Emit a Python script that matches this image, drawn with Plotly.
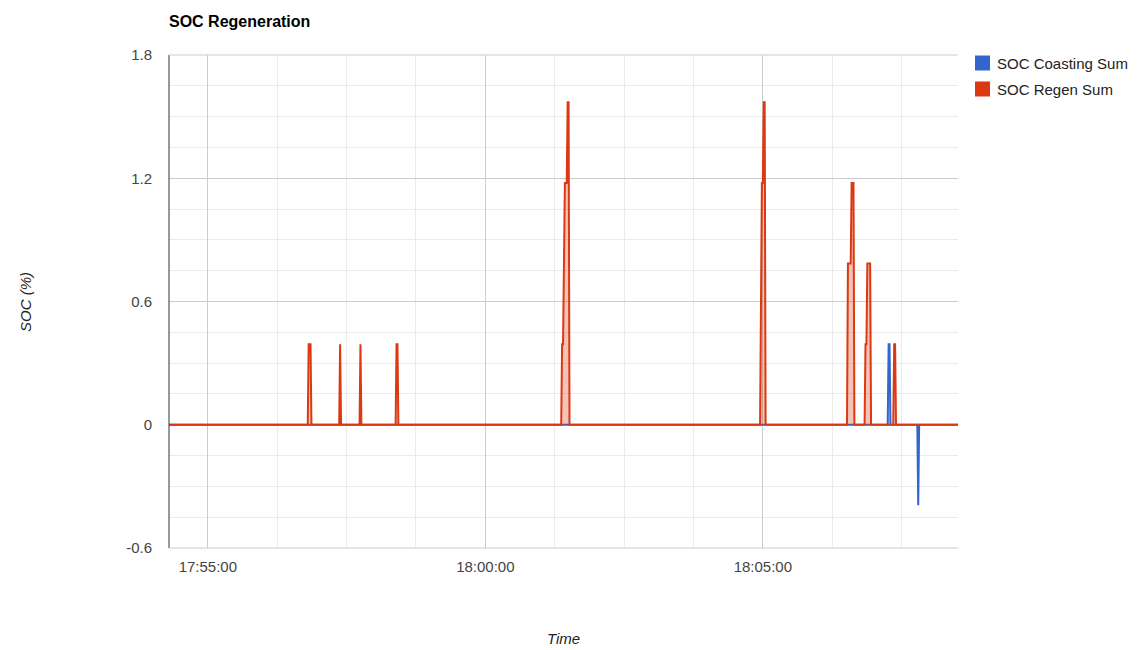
import plotly.graph_objects as go

DAY = "2020-01-01 "

regen_times = ["17:54:18", "17:56:48", "17:56:49", "17:56:51", "17:56:52",
               "17:57:22", "17:57:23", "17:57:24",
               "17:57:44", "17:57:45", "17:57:46",
               "17:58:23", "17:58:24", "17:58:25", "17:58:26",
               "18:01:22", "18:01:23", "18:01:24", "18:01:26", "18:01:28", "18:01:29", "18:01:30", "18:01:31",
               "18:04:57", "18:04:59", "18:05:00", "18:05:01", "18:05:02", "18:05:03",
               "18:06:31", "18:06:32", "18:06:35", "18:06:36", "18:06:38", "18:06:39",
               "18:06:50", "18:06:51", "18:06:52", "18:06:53", "18:06:56", "18:06:57",
               "18:07:21", "18:07:22", "18:07:23", "18:07:24",
               "18:08:31"]
regen_values = [0, 0, 0.392, 0.392, 0,
                0, 0.392, 0,
                0, 0.392, 0,
                0, 0.392, 0.392, 0,
                0, 0.392, 0.392, 1.177, 1.177, 1.57, 1.57, 0,
                0, 1.177, 1.177, 1.57, 1.57, 0,
                0, 0.785, 0.785, 1.177, 1.177, 0,
                0, 0.392, 0.392, 0.785, 0.785, 0,
                0, 0.392, 0.392, 0,
                0]

coast_times = ["17:54:18", "18:07:15", "18:07:16", "18:07:17", "18:07:18",
               "18:07:47", "18:07:48", "18:07:49", "18:08:31"]
coast_values = [0, 0, 0.392, 0.392, 0,
                0, -0.392, 0, 0]

series_names = ["SOC Coasting Sum", "SOC Regen Sum"]
series_colors = ["#3366cc", "#dc3912"]
series_fills = ["rgba(51,102,204,0.3)", "rgba(220,57,18,0.3)"]

y_ticks = [-0.6, 0, 0.6, 1.2, 1.8]
y_tick_labels = ["-0.6", "0", "0.6", "1.2", "1.8"]

FONT = "Arial, Liberation Sans, sans-serif"

fig = go.Figure()
for times, vals, name, col, fillc in [
    (coast_times, coast_values, series_names[0], series_colors[0], series_fills[0]),
    (regen_times, regen_values, series_names[1], series_colors[1], series_fills[1]),
]:
    fig.add_trace(go.Scatter(
        x=[DAY + t for t in times], y=vals, name=name, mode="lines",
        line=dict(color=col, width=2), fill="tozeroy", fillcolor=fillc,
        showlegend=False,
    ))

# page coordinates (the page body adds an 8px offset)
OFF = 8
L, R, T, B = 169, 958, 55, 548
W, H = 1139, 650
PW, PH = R - L, B - T

def px(x):
    return (x - L) / PW

def py(y):
    return (B - y) / PH

fig.update_layout(
    width=W - OFF, height=H - OFF,
    margin=dict(l=L - OFF, r=W - R, t=T - OFF, b=H - B, pad=0),
    paper_bgcolor="white", plot_bgcolor="white",
    font=dict(family=FONT, size=15, color="#444"),
    xaxis=dict(
        type="date",
        range=[DAY + regen_times[0], DAY + regen_times[-1]],
        tick0=DAY + "17:55:00", dtick=300000,
        tickformat="%H:%M:%S",
        showgrid=True, gridcolor="#cccccc", gridwidth=1,
        minor=dict(dtick=75000, tick0=DAY + "17:55:00", showgrid=True,
                   gridcolor="#ebebeb", gridwidth=1),
        showline=False, zeroline=False,
        ticks="outside", ticklen=5, tickcolor="rgba(0,0,0,0)",
        tickfont=dict(size=15, color="#444"),
    ),
    yaxis=dict(
        range=[-0.6, 1.8],
        tickvals=y_ticks, ticktext=y_tick_labels,
        showgrid=True, gridcolor="#cccccc", gridwidth=1,
        minor=dict(dtick=0.15, tick0=0, showgrid=True,
                   gridcolor="#ebebeb", gridwidth=1),
        zeroline=True, zerolinecolor="#333333", zerolinewidth=1,
        showline=False,
        ticks="outside", ticklen=13, tickcolor="rgba(0,0,0,0)",
        tickfont=dict(size=15, color="#444"),
    ),
)

shapes = [
    dict(type="line", xref="paper", yref="paper", x0=0, x1=0, y0=0, y1=1,
         line=dict(color="#333333", width=1)),
    dict(type="line", xref="paper", yref="paper", x0=0, x1=1, y0=1, y1=1,
         line=dict(color="#cccccc", width=1)),
    dict(type="line", xref="paper", yref="paper", x0=0, x1=1, y0=0, y1=0,
         line=dict(color="#cccccc", width=1)),
]
annotations = [
    dict(text="<b>SOC Regeneration</b>", xref="paper", yref="paper",
         x=px(167), y=py(21), xanchor="left", yanchor="middle", showarrow=False,
         font=dict(family=FONT, size=16, color="#000")),
    dict(text="<i>SOC (%)</i>", xref="paper", yref="paper",
         x=px(25), y=py(302), xanchor="center", yanchor="middle", showarrow=False,
         textangle=-90, font=dict(family=FONT, size=15, color="#222")),
    dict(text="<i>Time</i>", xref="paper", yref="paper",
         x=px(563), y=py(638), xanchor="center", yanchor="middle", showarrow=False,
         font=dict(family=FONT, size=15, color="#222")),
]
for i, (name, col) in enumerate(zip(series_names, series_colors)):
    yc = 63 + 26 * i
    shapes.append(dict(type="rect", xref="paper", yref="paper",
                       x0=px(975), x1=px(990), y0=py(yc + 7.5), y1=py(yc - 7.5),
                       fillcolor=col, line=dict(width=0)))
    annotations.append(dict(text=name, xref="paper", yref="paper",
                            x=px(995), y=py(yc), xanchor="left", yanchor="middle",
                            showarrow=False,
                            font=dict(family=FONT, size=15, color="#222")))

fig.update_layout(shapes=shapes, annotations=annotations)
fig.write_html("out.html")
